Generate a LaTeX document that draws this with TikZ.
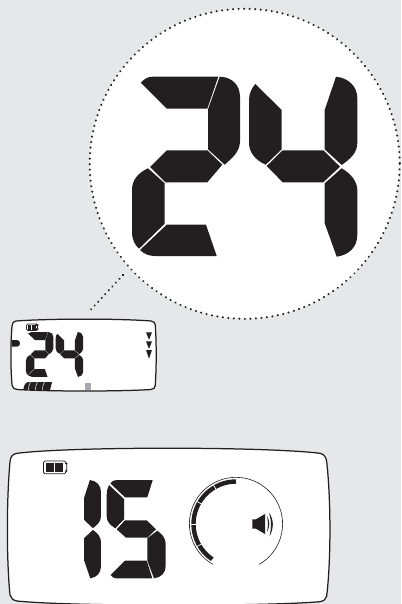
\documentclass[tikz,border=0pt]{standalone}
\definecolor{bg}{HTML}{E6E7E8}
\definecolor{ink}{HTML}{231F20}
\definecolor{markgray}{HTML}{A7A9AC}
\newcommand{\digitRightColumn}{%
  \fill[ink] (336,76.7) .. controls (349,78) and (357.3,87) .. (357.3,98) -- (357.3,143) .. controls (357.3,153) and (350,159) .. (341.7,165) -- (324.7,149.3) -- (324.7,110) -- cycle;
  \fill[ink] (341.7,168.3) .. controls (350,173) and (357.3,181) .. (357.3,190) -- (357.3,235) .. controls (357.3,247) and (349,255) .. (336.7,256.7) -- (324.7,223.3) -- (324.7,183.3) -- cycle;
}
\newcommand{\digitTwoFour}{%
  % 2
  \fill[ink] (140.7,82.7) .. controls (146,77.8) and (148,76.7) .. (153,76.7) -- (218.3,76.7) -- (207.3,108.7) -- (166.7,108.7) -- cycle;
  \fill[ink] (219.7,76.7) .. controls (232,77) and (240,85) .. (240,97) -- (240,141) .. controls (240,152) and (232,158) .. (224.7,164.7) -- (208,149.3) -- (208,109.3) -- cycle;
  \fill[ink] (150,167) -- (166.7,150.3) -- (207.3,150.3) -- (222.3,164.7) -- (207.3,182.3) -- (165.3,182.3) -- cycle;
  \fill[ink] (148,168.3) .. controls (138,173) and (132,180) .. (132,190) -- (132,232) .. controls (132,240) and (135,245) .. (139,248.7) -- (164.7,223.7) -- (164.7,183.3) -- cycle;
  \fill[ink] (140,250) -- (166.7,224.7) -- (206,224.7) -- (216.7,256) -- (155,256) .. controls (149,256) and (144,254) .. (140,250) -- cycle;
  % 4
  \fill[ink] (255.3,84) -- (281.7,110) -- (281.7,149.3) -- (265.7,164.7) .. controls (255,160) and (249,152) .. (249,143) -- (249,100) .. controls (249,93) and (252,88) .. (255.3,84) -- cycle;
  \fill[ink] (266.7,166) -- (282.7,150.3) -- (323.3,150.3) -- (340,166.7) -- (323.3,182.3) -- (282.7,182.3) -- cycle;
  \digitRightColumn
}
\newcommand{\batteryIcon}{%
  \draw[ink,line width=.75bp,rounded corners=1.2bp] (43.6,461) -- (65.6,461) -- (65.6,463.5) -- (66.8,463.5) -- (66.8,471) -- (65.6,471) -- (65.6,473.8) -- (43.6,473.8) -- cycle;
  \fill[ink] (46,462.7) rectangle (54,472);
  \fill[ink] (55,462.7) rectangle (63.3,472);
}
\begin{document}
\begin{tikzpicture}[x=1bp,y=-1bp,
  dots/.style={ink,line width=2.3bp,line cap=round,dash pattern=on 0.01bp off 5.52bp},
  panel/.style={fill=white,draw=ink,line width=1.25bp}]
\useasboundingbox (0,0) rectangle (401,604);
\fill[bg] (0,0) rectangle (401,604);
\begin{scope}
\clip (0,0) rectangle (401,604);
% magnifier
\coordinate (lensc) at (244.7,163.8);
\fill[white] (lensc) circle[radius=155];
\draw[dots] (lensc) circle[radius=155];
\coordinate (ca) at (123,275);
\coordinate (cb) at (88,312.7);
\draw[dots,dash pattern=on 0.01bp off 5.2bp] (ca) -- (cb);
\digitTwoFour
% small display
\draw[panel] (16,321) .. controls (50,318.5) and (120,318.5) .. (151,321) .. controls (154,321.3) and (155,323) .. (155.3,325) .. controls (156.5,345) and (156.5,365) .. (155.3,385) .. controls (155,388) and (154,389) .. (151,389.5) .. controls (120,391.5) and (50,391.5) .. (17,389.5) .. controls (14,389) and (12.5,388) .. (12,385) .. controls (10.5,365) and (10.5,345) .. (12,326) .. controls (12.3,323) and (13.5,321.3) .. (16,321) -- cycle;
\begin{scope}[shift={(-7.53,312.83)},xscale=.254,yscale=.25]
  \digitTwoFour
\end{scope}
\begin{scope}[shift={(6.1,93.5)},xscale=.47,yscale=.5]
  \batteryIcon
\end{scope}
\fill[ink] (11.7,340) -- (17,340) .. controls (19,340) and (20,341.5) .. (20,343.3) .. controls (20,345.2) and (19,346.7) .. (17,346.7) -- (11.7,346.7) -- cycle;
\fill[ink] (146,332.3) -- (152,332.3) -- (149,339.8) -- cycle;
\fill[ink] (146,341.3) -- (152,341.3) -- (149,349) -- cycle;
\fill[ink] (146,350) -- (152,350) -- (149,358.7) -- cycle;
\fill[ink] (23.3,389.8) .. controls (24,385) and (25.5,382) .. (29,382) -- (52,382) -- (50,390) -- cycle;
\draw[white,line width=.5bp] (30.5,382) .. controls (29,384) and (28.5,387) .. (28.5,390);
\draw[white,line width=.5bp] (37.5,382) .. controls (36,384) and (35.5,387) .. (35.5,390);
\draw[white,line width=.5bp] (44.5,382) .. controls (43,384) and (42.5,387) .. (42.5,390);
\fill[markgray] (85.3,382.7) rectangle (91.3,390.3);
% large display
\draw[panel] (17,453.3) .. controls (70,446.5) and (265,446.5) .. (320,453.3) .. controls (324,454) and (326,457) .. (326.7,461.7) .. controls (331,500) and (331,560) .. (326.7,596) .. controls (326,599) and (324,601) .. (320,601.7) .. controls (265,606.5) and (70,606.5) .. (17,601) .. controls (13,600.5) and (11,598) .. (10,595) .. controls (6.5,560) and (6.5,500) .. (10,461.7) .. controls (10.5,456) and (13,454) .. (17,453.3) -- cycle;
\batteryIcon
\begin{scope}[shift={(-84.84,438.12)},xscale=.52,yscale=.546]
  \digitRightColumn
\end{scope}
% 5
\fill[ink] (110.3,483.3) .. controls (112,481) and (114,480) .. (117,480) -- (152.7,480) -- (147.3,497.3) -- (125,497.3) -- cycle;
\fill[ink] (109,485) -- (124,499) -- (124,519.3) -- (115.3,528.3) .. controls (110,525) and (106.7,522) .. (106.7,516) -- (106.7,495) .. controls (106.7,491) and (107.5,488) .. (109,485) -- cycle;
\fill[ink] (116.7,529.3) -- (125,520.3) -- (146.7,520.3) -- (156,529.3) -- (147.3,537.7) -- (126,537.7) -- cycle;
\fill[ink] (157.3,530.7) .. controls (162,534) and (165.7,538) .. (165.7,544) -- (165.7,566) .. controls (165.7,573) and (161,577.5) .. (154,578.3) -- (147.3,560.7) -- (147.3,538.3) -- cycle;
\fill[ink] (110.7,575) -- (125,560.7) -- (146.7,560.7) -- (152.3,578.3) -- (116,578.3) .. controls (113.5,578.3) and (112,577) .. (110.7,575) -- cycle;
% dial
\coordinate (dial) at (236,524);
\draw[ink,line width=.6bp] (212.7,564.3) arc[start angle=-240,end angle=60,radius=46.6];
\draw[ink,line width=4.4bp] (236,481.5) arc[start angle=-90,end angle=-236,radius=42.5];
\foreach \a in {120,150,180,210}{
  \draw[white,line width=.7bp] (dial) ++(-\a:39.5) -- ++(-\a:6.2);
}
% speaker
\fill[ink] (252.3,519.3) -- (256,519.3) -- (265,514) -- (265,534) -- (256,528.7) -- (252.3,528.7) -- cycle;
\fill[ink] (267,516) .. controls (270,521) and (270,527) .. (267,532) .. controls (268.2,527) and (268.2,521) .. (267,516) -- cycle;
\fill[ink] (269,512.5) .. controls (274,520) and (274,528) .. (269.5,536.5) .. controls (271.5,528) and (271.5,520) .. (269,512.5) -- cycle;
\end{scope}
\end{tikzpicture}
\end{document}
